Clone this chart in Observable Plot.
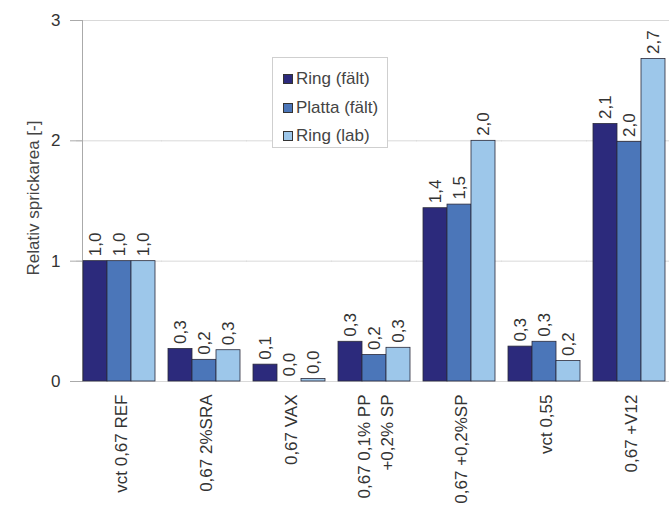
<!DOCTYPE html>
<html>
<head>
<meta charset="utf-8">
<script src="https://cdn.jsdelivr.net/npm/d3@7"></script>
<script src="https://cdn.jsdelivr.net/npm/@observablehq/plot@0.6"></script>
<style>
  html, body { margin: 0; padding: 0; background: #fff; overflow: hidden; }
  #wrap { position: relative; width: 669px; height: 516px; font-family: "Liberation Sans", Arial, sans-serif; }
  #legend { position: absolute; left: 272px; top: 57px; width: 116px; height: 91px; border: 1px solid #cfcfcf; background: #fff; box-sizing: border-box; padding-top: 7px; }
  .item { display: flex; align-items: center; height: 28.5px; font-size: 17px; color: #444; }
  .sw { width: 8px; height: 8px; border: 1px solid #333; margin: 0 3px 0 10px; }
</style>
</head>
<body>
<div id="wrap"></div>
<script>
const categories = ["vct 0,67 REF", "0,67 2%SRA", "0,67 VAX", "0,67 0,1% PP\n+0,2% SP", "0,67 +0,2%SP", "vct 0,55", "0,67 +V12"];
const series = ["Ring (fält)", "Platta (fält)", "Ring (lab)"];
const ringFalt   = [1.0, 0.27, 0.14, 0.33, 1.44, 0.29, 2.14];
const plattaFalt = [1.0, 0.18, 0.00, 0.22, 1.47, 0.33, 1.99];
const ringLab    = [1.0, 0.26, 0.02, 0.28, 2.00, 0.17, 2.68];
const colors = ["#2c2a7c", "#4b76b9", "#9dc7ea"];
const yTicks = [0, 1, 2, 3];
const yLabel = "Relativ sprickarea [-]";

const seriesValues = [ringFalt, plattaFalt, ringLab];
const data = [];
categories.forEach((c, i) => series.forEach((s, j) => data.push({cat: c, series: s, value: seriesValues[j][i]})));
const fmt = v => v.toFixed(1).replace(".", ",");
const grid = categories.flatMap(c => yTicks.map(t => ({cat: c, t})));

const font = "'Liberation Sans', Arial, sans-serif";
const chart = Plot.plot({
  width: 669,
  height: 516,
  marginLeft: 75,
  marginRight: -5,
  marginTop: 20,
  marginBottom: 135,
  style: {fontFamily: font, fontSize: "17px", color: "#333", background: "#fff"},
  fx: {domain: categories, paddingInner: 0.128, paddingOuter: 0.047, axis: null},
  x: {domain: series, padding: 0, axis: null},
  y: {domain: [0, 3]},
  color: {domain: series, range: colors},
  marks: [
    Plot.ruleY(grid, {fx: "cat", y: "t", stroke: "#d9d9d9", strokeWidth: 1, insetLeft: -6, insetRight: -6}),
    Plot.frame({anchor: "left", facet: "super", stroke: "#aaa"}),
    Plot.axisY({ticks: yTicks, tickSize: 12, tickPadding: 10, label: null, tickFormat: d => String(d), stroke: "#aaa", fill: "#333", fontSize: 17}),
    Plot.text([yLabel], {fx: () => categories[0], text: d => d, frameAnchor: "left", textAnchor: "middle", rotate: -90, dx: -49, dy: -3, fontSize: 17, fill: "#444"}),
    Plot.barY(data.filter(d => d.value > 0), {fx: "cat", x: "series", y: "value", fill: "series", stroke: "#2a2a3a", strokeWidth: 0.8}),
    Plot.text(data, {fx: "cat", x: "series", y: "value", text: d => fmt(d.value), rotate: -90, textAnchor: "start", dy: -5, fontSize: 17, fill: "#333"}),
    Plot.text(categories, {fx: d => d, text: d => d, frameAnchor: "bottom", rotate: -90, textAnchor: "end", lineAnchor: "middle", lineHeight: 1.35, dy: 13, fontSize: 17, fill: "#333"})
  ]
});
const wrap = document.getElementById("wrap");
wrap.appendChild(chart);
const legend = document.createElement("div");
legend.id = "legend";
series.forEach((s, j) => {
  const it = document.createElement("div");
  it.className = "item";
  const sw = document.createElement("span");
  sw.className = "sw";
  sw.style.background = colors[j];
  it.appendChild(sw);
  it.appendChild(document.createTextNode(s));
  legend.appendChild(it);
});
wrap.appendChild(legend);
</script>
</body>
</html>
